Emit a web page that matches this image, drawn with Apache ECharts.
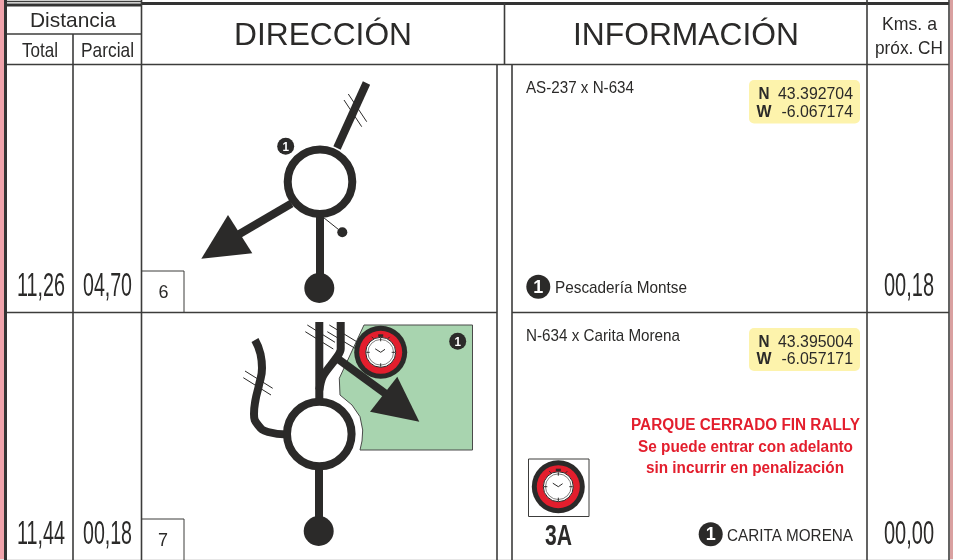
<!DOCTYPE html>
<html><head><meta charset="utf-8">
<style>html,body{margin:0;padding:0;background:#fff}#c{width:953px;height:560px}</style>
<script src="https://cdn.jsdelivr.net/npm/echarts@6/dist/echarts.min.js"></script>
</head><body><div id="c"></div>
<script>
// ---- text content ----
const headers = ['Distancia', 'Total', 'Parcial', 'DIRECCIÓN', 'INFORMACIÓN', 'Kms. a', 'próx. CH'];
const totals = ['11,26', '11,44'];
const partials = ['04,70', '00,18'];
const nextCH = ['00,18', '00,00'];
const stepNumbers = ['6', '7'];
const junctions = ['AS-237 x N-634', 'N-634 x Carita Morena'];
const latN = ['43.392704', '43.395004'];
const lonW = ['-6.067174', '-6.057171'];
const notes = ['Pescadería Montse', 'CARITA MORENA'];
const redNotes = ['PARQUE CERRADO FIN RALLY', 'Se puede entrar con adelanto', 'sin incurrir en penalización'];
const controlCode = '3A';

// ---- traced geometry (picture coordinates) ----
const gridThick = [[[7,5],[141,5]], [[141,3.5],[949,3.5]], [[5.5,0],[5.5,560]]];
const gridThin = [
  [[7,1.5],[141,1.5]],
  [[7,34],[141,34]], [[7,64.5],[949,64.5]],
  [[7,312.5],[497,312.5]], [[512,312.5],[949,312.5]],
  [[73,34],[73,560]], [[141.5,0],[141.5,560]], [[504.5,3],[504.5,64]],
  [[497,65],[497,560]], [[512,65],[512,560]], [[867,0],[867,560]], [[949,0],[949,560]]
];
const stepBoxes = [[[141.5,271],[184,271],[184,312]], [[141.5,519],[184,519],[184,560]], [[528.5,459],[589,459],[589,516.5],[528.5,516.5],[528.5,459]]];

const road1 = [[[366.5,83],[337,148]], [[320,212],[320,276]], [[291.5,203.5],[236,236]]];
const road2 = [[[319.3,322],[319.3,402]], [[319,465],[319,520]], [[336.7,358],[386,394]]];
const road2Branch = [[340.7,322],[340.7,349],[337,357],[323,376],[319.3,390]];
const road2Bend = [[255,340],[260.5,354],[262,368],[259,385],[255.5,400],[254,414],[258,425],[268,432],[287,434.5]];
const hatches = [
  [[344,100],[361.7,126.7]], [[348.3,94],[366.7,121.7]],
  [[323.5,217.5],[338.5,229.5]],
  [[245,371],[272.7,388.3]], [[243.3,377.7],[271,395]],
  [[307.3,325],[335,342.3]], [[305.3,331.7],[333.3,349]],
  [[329.3,325],[356.7,341.7]], [[327.3,331.7],[355,348.3]]
];
const arrowHeads = [
  [[228,215],[252.3,253.3],[201.3,258.7]],
  [[397.3,376.7],[419.3,421.7],[370,411.7]]
];
const greenArea = [[364,325],[472.5,325],[472.5,450],[360,450],[362,441],[362.7,430],[360,416.7],[352,405],[340,395],[339.3,378.3]];
const rings = [[320,181.7],[319.3,434]];
const endDots = [[319.3,288,15],[318.7,531,15],[342.3,232.3,5]];
const clocks = [[380.7,352.3],[558.3,486.7]];
const badges = [[285.7,146.3,8.5],[457.7,341.3,8.5],[538.3,286.7,12],[710.7,534.3,12]];
const yellowBoxes = [[749,80,111,43.5],[749,328,111,43]];

const INK = '#2b2a29', RED = '#e31e2d', FONT = '"Liberation Sans",Arial,sans-serif';
const ctx = document.createElement('canvas').getContext('2d');
function tx(text, x, y, size, width, o) {
  o = o || {};
  const font = (o.bold ? 'bold ' : '') + size + 'px ' + FONT;
  ctx.font = font;
  const natural = ctx.measureText(text).width;
  return { text, x, y: y + size * 0.05, font, scaleX: width / natural, align: o.align || 'center', fill: o.fill || INK };
}
const texts = [
  tx(headers[0], 73, 20, 21, 86),
  tx(headers[1], 40, 50, 21, 36),
  tx(headers[2], 107.5, 50, 21, 53),
  tx(headers[3], 323, 34.5, 32, 178),
  tx(headers[4], 686, 34.5, 32, 226),
  tx(headers[5], 909.5, 23.5, 19, 55),
  tx(headers[6], 909, 47.5, 19, 68),
  tx(totals[0], 41, 285, 33, 48), tx(totals[1], 41, 533, 33, 48),
  tx(partials[0], 107.5, 285, 33, 49), tx(partials[1], 107.5, 533, 33, 49),
  tx(nextCH[0], 909, 285, 33, 50), tx(nextCH[1], 909, 533, 33, 50),
  tx(stepNumbers[0], 163.5, 292, 18, 10), tx(stepNumbers[1], 163, 540, 18, 10),
  tx(junctions[0], 526, 87, 17, 108, {align:'left'}),
  tx(junctions[1], 526, 335, 17, 154, {align:'left'}),
  tx('N', 764, 94, 16, 11, {bold:true}), tx('W', 764, 111.5, 16, 15, {bold:true}),
  tx(latN[0], 853, 94, 16, 75, {align:'right'}), tx(lonW[0], 853, 111.5, 16, 71.5, {align:'right'}),
  tx('N', 764, 341.5, 16, 11, {bold:true}), tx('W', 764, 359, 16, 15, {bold:true}),
  tx(latN[1], 853, 341.5, 16, 75, {align:'right'}), tx(lonW[1], 853, 359, 16, 71.5, {align:'right'}),
  tx(notes[0], 555, 287, 17, 132, {align:'left'}),
  tx(notes[1], 727, 535, 17, 126, {align:'left'}),
  tx(redNotes[0], 745.5, 425, 16, 229, {bold:true, fill:RED}),
  tx(redNotes[1], 745.5, 447, 16, 215, {bold:true, fill:RED}),
  tx(redNotes[2], 745, 468, 16, 198, {bold:true, fill:RED}),
  tx(controlCode, 558.5, 535, 30, 27, {bold:true}),
  tx('1', 285.7, 146.3, 13, 6.5, {bold:true, fill:'#fff'}),
  tx('1', 457.7, 341.3, 13, 6.5, {bold:true, fill:'#fff'}),
  tx('1', 538.3, 286.7, 19, 10, {bold:true, fill:'#fff'}),
  tx('1', 710.7, 534.3, 19, 10, {bold:true, fill:'#fff'})
];

// ---- series helpers ----
const base = { silent: true, animation: false, clip: false };
function line(points, width, color, z, smooth) {
  return Object.assign({}, base, { type:'line', data:points, showSymbol:false, symbol:'none', z, smooth: smooth || false,
    lineStyle:{ width, color, cap:'butt', join:'round' } });
}
function custom(items, z, draw) {
  return Object.assign({}, base, { type:'custom', coordinateSystem:'cartesian2d', z,
    data: items.map((_, i) => [i, 0]),
    renderItem: (p, api) => draw(items[p.dataIndex], api) });
}
const pts = (list, api) => list.map(q => api.coord(q));
function circle(c, api, r, fill, stroke, lw) {
  const q = api.coord(c);
  return { type:'circle', shape:{ cx:q[0], cy:q[1], r }, style:{ fill: fill, stroke: stroke || null, lineWidth: lw || 0 } };
}
function drawClock(c, api) {
  const q = api.coord(c);
  const kids = [];
  const ci = (r, fill, stroke, lw) => kids.push({ type:'circle', shape:{cx:q[0],cy:q[1],r}, style:{fill, stroke:stroke||null, lineWidth:lw||0} });
  const ln = (a,b,d,e,lw) => kids.push({ type:'line', shape:{x1:q[0]+a,y1:q[1]+b,x2:q[0]+d,y2:q[1]+e}, style:{stroke:INK, lineWidth:lw} });
  ci(26.5, INK); ci(21.5, RED);
  kids.push({ type:'rect', shape:{x:q[0]-2.5,y:q[1]-18,width:5,height:2.5}, style:{fill:INK} });
  ln(-9,-15.5,-7,-13.5,1); ln(9,-15.5,7,-13.5,1);
  ci(15, '#fff', INK, 1); ci(12.8, '#fff', INK, 0.6);
  for (const a of [0,1,2,3]) {
    const dx = Math.cos(a*Math.PI/2), dy = Math.sin(a*Math.PI/2);
    ln(dx*11,dy*11,dx*14.5,dy*14.5,1);
  }
  ln(0,0,-5.5,-3.5,1); ln(0,0,4.3,-3,1);
  return { type:'group', children:kids };
}

const series = [];
// frame
series.push(custom([[0,0,4,560,'#f0a3ab'],[950,0,3,560,'#d9a0a0'],[0,559,953,1,'#e6e6e6']], 1, (r, api) => {
  const q = api.coord([r[0], r[1]]);
  return { type:'rect', shape:{x:q[0],y:q[1],width:r[2],height:r[3]}, style:{fill:r[4]} };
}));
gridThick.forEach(s => series.push(line(s, 3, '#333', 2)));
gridThin.forEach(s => series.push(line(s, 1.6, '#3c3c3b', 2)));
stepBoxes.forEach(s => series.push(line(s, 1, '#3c3c3b', 2)));
// green parcel
series.push(custom([greenArea], 3, (it, api) => ({ type:'polygon', shape:{ points: pts(it, api) }, style:{ fill:'#a8d4af', stroke:'#4a4a4a', lineWidth:1 } })));
// roads and marks
hatches.forEach(s => series.push(line(s, 1, INK, 4)));
road1.concat(road2).forEach(s => series.push(line(s, 8, INK, 5)));
series.push(line(road2Branch, 8, INK, 5, 0.3));
series.push(line(road2Bend, 8, INK, 5, 0.5));
series.push(custom(arrowHeads, 6, (it, api) => ({ type:'polygon', shape:{points:pts(it,api)}, style:{fill:INK} })));
series.push(custom(rings, 6, (c, api) => circle(c, api, 32.3, '#fff', INK, 8)));
series.push(custom(endDots, 6, (d, api) => circle([d[0],d[1]], api, d[2], INK)));
series.push(custom(clocks, 7, drawClock));
series.push(custom(yellowBoxes, 7, (b, api) => {
  const q = api.coord([b[0], b[1]]);
  return { type:'rect', shape:{x:q[0],y:q[1],width:b[2],height:b[3],r:5}, style:{fill:'#fdf3ac'} };
}));
series.push(custom(badges, 7, (d, api) => circle([d[0],d[1]], api, d[2], INK)));
series.push(custom(texts, 8, (t, api) => {
  const q = api.coord([t.x, t.y]);
  return { type:'text', x:q[0], y:q[1], scaleX:t.scaleX, scaleY:1,
    style:{ text:t.text, x:0, y:0, font:t.font, fill:t.fill, textAlign:t.align, align:t.align, textVerticalAlign:'middle', verticalAlign:'middle' } };
}));

const chart = echarts.init(document.getElementById('c'), null, { renderer:'canvas' });
chart.setOption({
  animation:false, backgroundColor:'#fff',
  grid:{ left:0, right:0, top:0, bottom:0 },
  xAxis:{ type:'value', min:0, max:953, show:false },
  yAxis:{ type:'value', min:0, max:560, inverse:true, show:false },
  series
});
</script></body></html>
